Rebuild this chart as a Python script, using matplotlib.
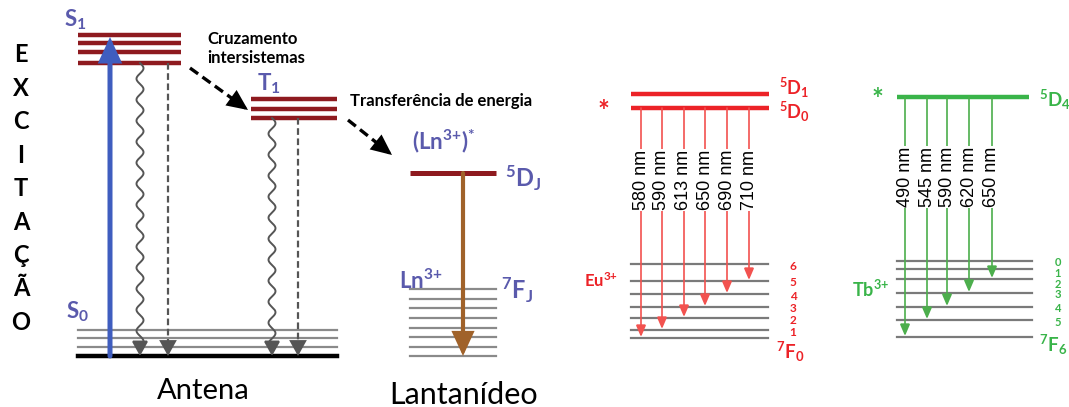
import numpy as np
import matplotlib
matplotlib.use("Agg")
import matplotlib.pyplot as plt
from matplotlib.patches import FancyArrowPatch

plt.rcParams["font.family"] = ["Lato", "DejaVu Sans"]
plt.rcParams["mathtext.fontset"] = "custom"
plt.rcParams["mathtext.rm"] = "Lato:bold"
plt.rcParams["mathtext.it"] = "Lato:bold"
plt.rcParams["mathtext.bf"] = "Lato:bold"

# energy axis runs downward (pixel-like units, 0 = top)
s1_levels = [35, 43, 52, 63]
t1_levels = [99, 109, 118]
s0_levels = [330, 338, 347, 356]
ln_excited = 173
ln_ground = [289, 299, 308, 318, 328, 337, 347, 356]

eu_d_levels = [94, 108]           # 5D1, 5D0
eu_f_levels = [338, 330, 318, 307, 294, 281, 264]   # 7F0 .. 7F6
eu_nm = [580, 590, 613, 650, 690, 710]
eu_final_j = [0, 1, 2, 3, 4, 5]
eu_x = [641, 662, 684, 705, 727, 749]

tb_d_level = 97                   # 5D4
tb_f_levels = [261, 269, 279, 293, 307, 320, 337]   # 7F0 .. 7F6
tb_nm = [490, 545, 590, 620, 650]
tb_final_j = [6, 5, 4, 3, 2]
tb_x = [905, 927, 947, 969, 992]

excitacao = list("EXCITAÇÃO")

DARKRED = "#8e1a1f"
LABEL = "#5a5aac"
BLUE = "#3f5dbf"
BROWN = "#a0622a"
RED = "#ec2227"
RED_ARROW = "#f2524f"
GREEN = "#39b449"
GREEN_ARROW = "#4cae4c"

fig = plt.figure(figsize=(10.69, 4.07), dpi=100)
ax = fig.add_axes([0, 0, 1, 1])
ax.set_xlim(0, 1069)
ax.set_ylim(407, 0)
ax.axis("off")


def arrow(x0, y0, x1, y1, color, lw, hl, hw, z=3):
    a = FancyArrowPatch((x0, y0), (x1, y1),
                        arrowstyle=f"-|>,head_length={hl},head_width={hw}",
                        color=color, lw=lw, shrinkA=0, shrinkB=0, zorder=z,
                        joinstyle="miter")
    ax.add_patch(a)


def dashed_arrow(x0, y0, x1, y1, color, lw, hl, hw):
    d = np.hypot(x1 - x0, y1 - y0)
    ux, uy = (x1 - x0) / d, (y1 - y0) / d
    cut = hl * 1.2
    ax.plot([x0, x1 - ux * cut], [y0, y1 - uy * cut], color=color, lw=lw,
            ls=(0, (3, 1.6)), solid_capstyle="butt", zorder=3)
    arrow(x1 - ux * (cut + 2), y1 - uy * (cut + 2), x1, y1, color, lw, hl, hw)


def wavy_arrow(x, y0, y1, color):
    yy = np.linspace(y0, y1 - 12, 400)
    xx = x + 3.5 * np.sin(2 * np.pi * (yy - y0) / 21.0)
    ax.plot(xx, yy, color=color, lw=1.4, zorder=3)
    arrow(x, yy[-1], x, y1, color, 1.4, 9, 5)


def label(x, y, s, color, size, **kw):
    ax.text(x, y, s, color=color, fontsize=size, fontweight="bold", va="center", **kw)


def spread(levels, gap):
    # keep small J labels from running into each other
    out, prev = [], -1e9
    for y in levels:
        y = max(y + 2, prev + gap)
        out.append(y)
        prev = y
    return out


# ---------------- Antena ----------------
for y in s1_levels:
    ax.plot([78, 181], [y, y], color=DARKRED, lw=3.2, solid_capstyle="butt", zorder=2)
for y in t1_levels:
    ax.plot([251, 337], [y, y], color=DARKRED, lw=3.2, solid_capstyle="butt", zorder=2)
for y in s0_levels[:-1]:
    ax.plot([78, 337], [y, y], color="#8a8a8a", lw=1.6, zorder=1)
ax.plot([78, 337], [s0_levels[-1]] * 2, color="black", lw=3.2, zorder=2)

arrow(110, s0_levels[-1], 110, s1_levels[0] + 2, BLUE, 3.6, 13, 6, z=4)
wavy_arrow(140, s1_levels[-1], s0_levels[-1], "#555555")
dashed_arrow(168, s1_levels[-1], 168, s0_levels[-1], "#555555", 1.6, 9, 5)
wavy_arrow(272, t1_levels[-1], s0_levels[-1], "#555555")
dashed_arrow(298, t1_levels[-1], 298, s0_levels[-1], "#555555", 1.6, 9, 5)

# intersystem crossing and energy transfer
dashed_arrow(190, 68, 248, 110, "black", 2.4, 11, 5)
dashed_arrow(348, 120, 392, 155, "black", 2.4, 11, 5)

label(64, 20, r"S$_1$", LABEL, 16)
label(257, 84, r"T$_1$", LABEL, 16)
label(66, 312, r"S$_0$", LABEL, 16)
label(207, 39, "Cruzamento", "black", 12)
label(207, 58, "intersistemas", "black", 12)
label(350, 101, "Transferência de energia", "black", 12)
ax.text(203, 391, "Antena", fontsize=21, ha="center", va="center")

for i, ch in enumerate(excitacao):
    ax.text(21, 55 + i * 33.4, ch, fontsize=17, fontweight="bold", ha="center", va="center")

# ---------------- Lantanídeo ----------------
ax.plot([410, 496], [ln_excited] * 2, color=DARKRED, lw=3.6, solid_capstyle="butt", zorder=2)
for y in ln_ground:
    ax.plot([410, 496], [y, y], color="#8a8a8a", lw=1.6, zorder=1)
arrow(463, ln_excited, 463, ln_ground[-1], BROWN, 3.0, 13, 6, z=4)
label(412, 141, r"(Ln$^{3{+}}$)$^{*}$", LABEL, 16)
label(505, 178, r"$^{5}$D$_{\mathrm{J}}$", LABEL, 17)
label(399, 281, r"Ln$^{3{+}}$", LABEL, 16)
label(501, 290, r"$^{7}$F$_{\mathrm{J}}$", LABEL, 17)
ax.text(464, 395, "Lantanídeo", fontsize=22, ha="center", va="center")

# ---------------- Eu3+ ----------------
for y in eu_d_levels:
    ax.plot([631, 769], [y, y], color=RED, lw=3.2, solid_capstyle="butt", zorder=2)
for y in eu_f_levels:
    ax.plot([631, 768], [y, y], color="#7a7a7a", lw=1.6, zorder=1)
for x, nm, j in zip(eu_x, eu_nm, eu_final_j):
    arrow(x, eu_d_levels[1], x, eu_f_levels[j] - 1, RED_ARROW, 1.2, 7, 3)
    ax.text(x, 180, f"{nm} nm", rotation=90, ha="center", va="center",
            fontsize=13, family="Liberation Sans", zorder=5,
            bbox=dict(facecolor="white", edgecolor="none", pad=0.4))
eu_num_y = spread(eu_f_levels[::-1][:-1], 10)[::-1]
for j, y in zip(range(1, 7), eu_num_y):
    label(793, y, str(j), RED, 8.5, ha="center")
label(603, 112, "*", RED, 20, ha="center")
label(779, 88, r"$^{5}$D$_{1}$", RED, 13)
label(779, 112, r"$^{5}$D$_{0}$", RED, 13)
label(776, 352, r"$^{7}$F$_{0}$", RED, 13.5)
label(584, 281, r"Eu$^{3{+}}$", RED, 12)

# ---------------- Tb3+ ----------------
ax.plot([897, 1029], [tb_d_level] * 2, color=GREEN, lw=3.2, solid_capstyle="butt", zorder=2)
for y in tb_f_levels:
    ax.plot([897, 1032], [y, y], color="#7a7a7a", lw=1.6, zorder=1)
for x, nm, j in zip(tb_x, tb_nm, tb_final_j):
    arrow(x, tb_d_level, x, tb_f_levels[j] - 1, GREEN_ARROW, 1.2, 7, 3)
    ax.text(x, 177, f"{nm} nm", rotation=90, ha="center", va="center",
            fontsize=13, family="Liberation Sans", zorder=5,
            bbox=dict(facecolor="white", edgecolor="none", pad=0.4))
tb_num_y = spread(tb_f_levels[:-1], 10.5)
for j, y in enumerate(tb_num_y):
    label(1058, y, str(j), GREEN, 8, ha="center")
label(877, 100, "*", GREEN, 20, ha="center")
label(1039, 100, r"$^{5}$D$_{4}$", GREEN, 13.5)
label(1039, 345, r"$^{7}$F$_{6}$", GREEN, 13.5)
label(852, 289, r"Tb$^{3{+}}$", GREEN, 13)

fig.savefig("out.png", dpi=100)
